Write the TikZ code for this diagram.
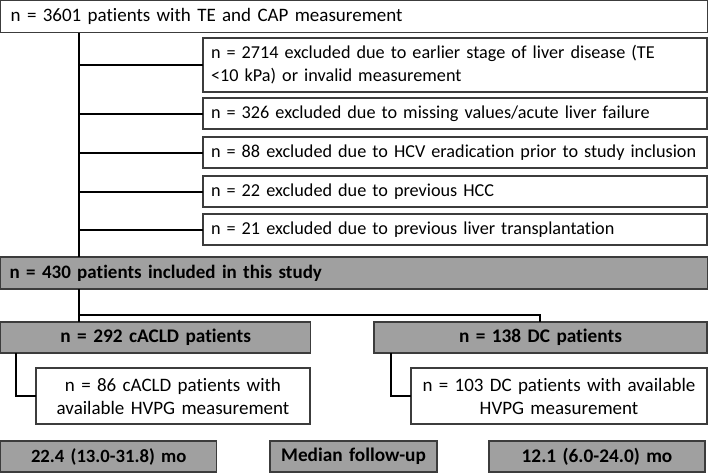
\documentclass[tikz,border=0pt]{standalone}
\usepackage{fontspec}
\setmainfont{Carlito}[Ligatures=NoCommon]
\begin{document}
\begin{tikzpicture}[x=1pt,y=-1pt,
  box/.style={draw=boxline, line width=1.3pt, fill=white, anchor=north west, inner sep=0pt, outer sep=0pt, font=\fontsize{19}{23}\selectfont},
  lbox/.style={box, align=left},
  xbox/.style={box, align=left, font=\fontsize{18.2}{23}\selectfont},
  cbox/.style={box, align=center},
  gbox/.style={box, fill=boxgray, font=\fontsize{19.3}{23.5}\selectfont\bfseries},
  conn/.style={draw=black, line width=2pt}]
\definecolor{boxline}{HTML}{3C3C3C}
\definecolor{boxgray}{HTML}{A0A0A0}
\useasboundingbox (0,0) rectangle (709,474);
% top
\node[lbox, minimum width=707pt, minimum height=32pt, text width=687pt] (top) at (0.7,0.7) {n = 3601 patients with TE and CAP measurement};
% exclusion boxes
\node[xbox, minimum width=504pt, minimum height=54pt, text width=488pt] (e1) at (203,38) {n = 2714 excluded due to earlier stage of liver disease (TE\\<10 kPa) or invalid measurement};
\node[xbox, minimum width=504pt, minimum height=31pt, text width=488pt] (e2) at (203,98) {n = 326 excluded due to missing values/acute liver failure};
\node[xbox, minimum width=504pt, minimum height=31pt, text width=488pt] (e3) at (203,137) {n = 88 excluded due to HCV eradication prior to study inclusion};
\node[xbox, minimum width=504pt, minimum height=31pt, text width=488pt] (e4) at (203,176) {n = 22 excluded due to previous HCC};
\node[xbox, minimum width=504pt, minimum height=31pt, text width=488pt] (e5) at (203,214) {n = 21 excluded due to previous liver transplantation};
% included
\node[gbox, align=left, minimum width=707pt, minimum height=32pt, text width=689pt, font=\fontsize{19}{23}\selectfont\bfseries] (inc) at (0.7,257) {n = 430 patients included in this study};
% groups
\node[gbox, align=center, minimum width=310pt, minimum height=31pt, text width=300pt] (ca) at (0.7,322) {n = 292 cACLD patients};
\node[gbox, align=center, minimum width=333pt, minimum height=31pt, text width=323pt] (dc) at (374,322) {n = 138 DC patients};
\node[cbox, minimum width=274pt, minimum height=56pt, text width=264pt] (cah) at (36,368) {n = 86 cACLD patients with\\available HVPG measurement};
\node[cbox, minimum width=296pt, minimum height=56pt, text width=286pt] (dch) at (411,368) {n = 103 DC patients with available\\HVPG measurement};
% follow-up
\node[gbox, align=center, minimum width=216pt, minimum height=31pt, text width=206pt, font=\fontsize{18.7}{23}\selectfont\bfseries] (f1) at (0.7,441) {22.4 (13.0-31.8) mo};
\node[gbox, align=center, minimum width=167pt, minimum height=31pt, text width=157pt] (f2) at (270,441) {Median follow-up};
\node[gbox, align=center, minimum width=216pt, minimum height=31pt, text width=206pt] (f3) at (489,441) {12.1 (6.0-24.0) mo};
% connectors
\coordinate (v0) at (79,0);
\draw[conn] (top.south -| v0) -- (inc.north -| v0);
\foreach \b in {e1,e2,e3,e4,e5}{\draw[conn] (\b.west -| v0) -- (\b.west);}
\draw[conn] (inc.south -| v0) -- (ca.north -| v0);
\coordinate (h1) at (79,315);
\coordinate (h2) at (540,315);
\draw[conn] (h1) -- (h2) -- (dc.north -| h2);
\coordinate (c1) at (16,396);
\draw[conn] (ca.south -| c1) -- (c1) -- (cah.west |- c1);
\coordinate (d1) at (391,396);
\draw[conn] (dc.south -| d1) -- (d1) -- (dch.west |- d1);
\end{tikzpicture}
\end{document}
